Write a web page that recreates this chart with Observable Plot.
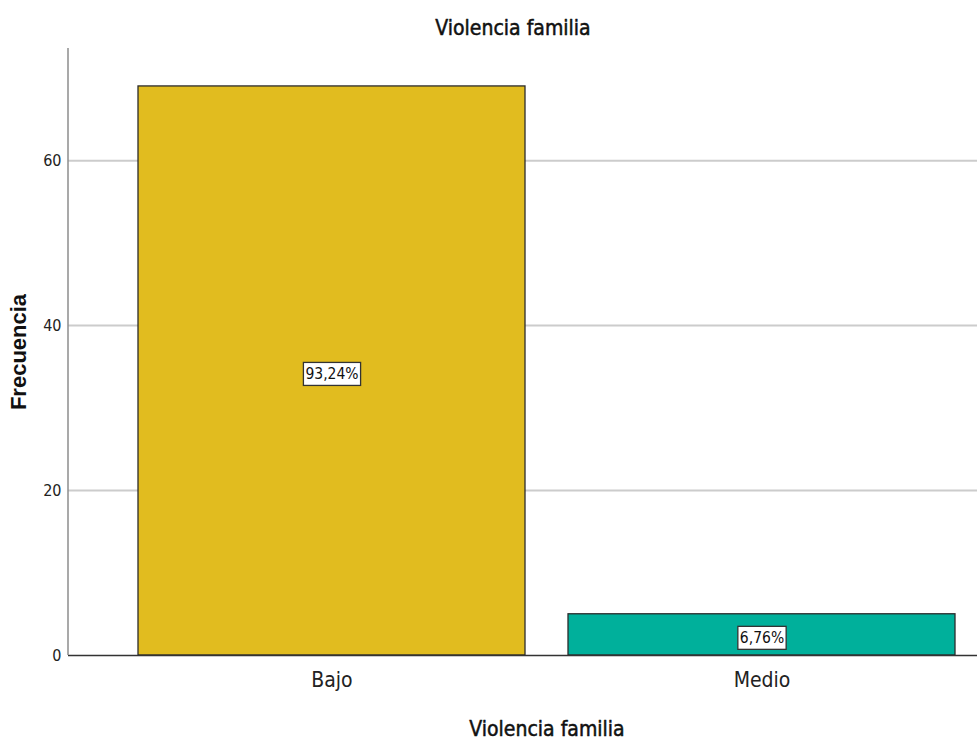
<!DOCTYPE html>
<html>
<head>
<meta charset="utf-8">
<script src="https://cdn.jsdelivr.net/npm/d3@7"></script>
<script src="https://cdn.jsdelivr.net/npm/@observablehq/plot@0.6"></script>
<style>
  html, body { margin: 0; padding: 0; background: #fff; }
  #chart svg { display: block; }
</style>
</head>
<body>
<div id="chart"></div>
<script>
const categories = ["Bajo", "Medio"];
const counts = [69, 5];
const percentLabels = ["93,24%", "6,76%"];
const barColors = ["#E1BC1F", "#00B09B"];
const yTicks = [0, 20, 40, 60];
const gridTicks = [20, 40, 60];
const titleText = "Violencia familia";
const xLabelText = "Violencia familia";
const yLabelText = "Frecuencia";

const data = categories.map((c, i) => ({cat: c, n: counts[i], pct: percentLabels[i], color: barColors[i]}));

const narrow = "'Liberation Sans Narrow', 'Arial Narrow', 'DejaVu Sans Condensed', sans-serif";

const leftAxisLine = (index, scales, values, dimensions) => {
  const g = d3.create("svg:line")
    .attr("x1", dimensions.marginLeft).attr("x2", dimensions.marginLeft)
    .attr("y1", dimensions.marginTop).attr("y2", dimensions.height - dimensions.marginBottom)
    .attr("stroke", "#8c8c8c").attr("stroke-width", 1.5);
  return g.node();
};

const chart = Plot.plot({
  width: 977,
  height: 740,
  marginTop: 48,
  marginBottom: 85,
  marginLeft: 68,
  marginRight: 0,
  style: {fontFamily: narrow, background: "#fff", color: "#222"},
  x: {domain: categories, range: [94, 999], padding: 0.1, label: null},
  y: {domain: [0, 73.6], label: null},
  marks: [
    Plot.ruleY(gridTicks, {stroke: "#cccccc", strokeWidth: 2}),
    Plot.barY(data, {x: "cat", y: "n", fill: "color", stroke: "#2b2b2b", strokeWidth: 1.3}),
    Plot.ruleY([0], {stroke: "#333", strokeWidth: 1.5}),
    leftAxisLine,
    Plot.axisY({ticks: yTicks, tickSize: 0, tickPadding: 7, fontSize: 16, label: null}),
    Plot.axisX({tickSize: 0, tickPadding: 17, fontSize: 21, label: null}),
    Plot.text(data, {x: "cat", y: d => d.n / 2, dy: 3, text: "pct", fontSize: 15.5, fill: "#111", className: "pctlabel"}),
    Plot.text([titleText], {frameAnchor: "top", dy: -28, dx: -10, fontSize: 21, fill: "#111", stroke: "#111", strokeWidth: 0.5}),
    Plot.text([xLabelText], {frameAnchor: "bottom", dy: 80, dx: 24, fontSize: 21, fill: "#111", stroke: "#111", strokeWidth: 0.5}),
    Plot.text([yLabelText], {frameAnchor: "left", textAnchor: "middle", dx: -50, dy: 0, rotate: -90, fontSize: 22, fill: "#111", fontWeight: "bold",
      fontFamily: "'Liberation Sans', Arial, sans-serif", letterSpacing: "1.5px"})
  ]
});

document.getElementById("chart").appendChild(chart);

// white boxes behind the percentage labels, sized from the rendered text
d3.select(chart).selectAll("g.pctlabel text").each(function() {
  const bb = this.getBBox();
  const t = this.getAttribute("transform");
  const rect = document.createElementNS("http://www.w3.org/2000/svg", "rect");
  rect.setAttribute("x", bb.x - 2);
  rect.setAttribute("y", bb.y - 2.5);
  rect.setAttribute("width", bb.width + 4);
  rect.setAttribute("height", bb.height + 5);
  rect.setAttribute("fill", "#fff");
  rect.setAttribute("stroke", "#333");
  rect.setAttribute("stroke-width", 1.3);
  if (t) rect.setAttribute("transform", t);
  this.parentNode.insertBefore(rect, this);
});
</script>
</body>
</html>
